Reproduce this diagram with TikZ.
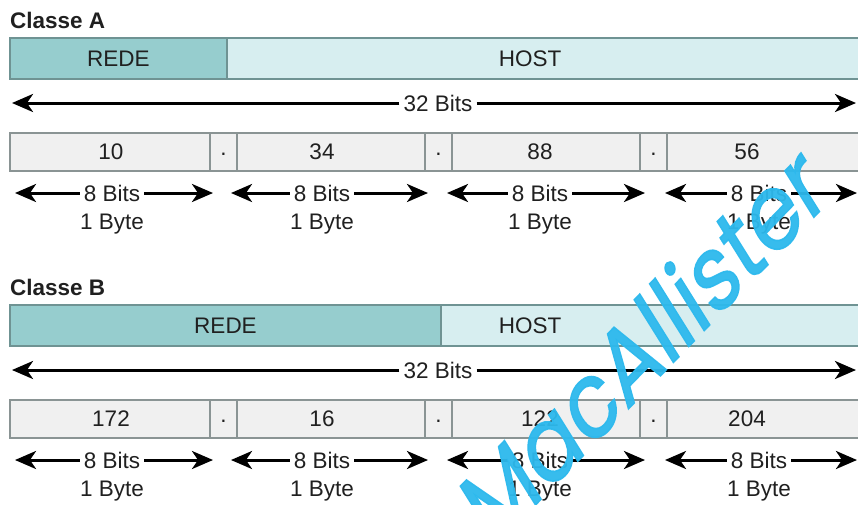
\documentclass[tikz,border=0pt]{standalone}
\usepackage{fontspec}
\setmainfont{Liberation Sans}
\newfontfamily\wmfont{Poppins}[FakeBold=1.5]
\usetikzlibrary{arrows.meta}

\definecolor{redecol}{HTML}{96CDCE}
\definecolor{hostcol}{HTML}{D7EEF0}
\definecolor{barline}{HTML}{6F9393}
\definecolor{bytecol}{HTML}{F0F0F0}
\definecolor{byteline}{HTML}{8A9494}
\definecolor{inkcol}{HTML}{202020}
\definecolor{markcol}{HTML}{2DB9ED}

\tikzset{
  lbl/.style={font=\fontsize{22.5}{26}\selectfont, text=inkcol, inner sep=3pt},
  ttl/.style={font=\fontsize{22.5}{26}\selectfont\bfseries, text=inkcol, anchor=west, inner sep=0pt},
  redebox/.style={draw=barline, fill=redecol, line width=1.2pt},
  hostbox/.style={draw=barline, fill=hostcol, line width=1.2pt},
  bytebox/.style={draw=byteline, fill=bytecol, line width=1.2pt},
  span/.style={draw=black, line width=3pt, -{Stealth[length=21pt,width=18pt,inset=6pt]}},
  gaplbl/.style={lbl, fill=white, inner xsep=4pt},
}

\begin{document}
\begin{tikzpicture}[x=1pt, y=-1pt]
\useasboundingbox (0,0) rectangle (858,504);
\clip (0,0) rectangle (858,504);
\fill[white] (0,0) rectangle (858,504);

% ---------- one address class: #1 = shift, #2 = end of network part, #3 = title, #4..#7 = octets, #8 = tag
\newcommand\classblock[8]{%
  \begin{scope}[yshift=#1]
    \node[ttl] (title#8) at (10,20) {#3};
    % network / host bar
    \draw[redebox] (10,38) rectangle (#2,79);
    \draw[hostbox] (#2,38) rectangle (880,79);
    \node[lbl] (rede#8) at ({(10+#2)/2},59) {REDE};
    \node[lbl] (host#8) at (530,59) {HOST};
    % full 32-bit span
    \node[gaplbl] (tb#8) at (438,103) {32 Bits};
    \coordinate (tl#8) at (12,103);
    \coordinate (tr#8) at (856,103);
    \draw[span] (tb#8.west) -- (tl#8);
    \draw[span] (tb#8.east) -- (tr#8);
    % octets and dots
    \draw[bytebox] (10,133) rectangle (210,171);
    \draw[bytebox] (210,133) rectangle (237,171);
    \draw[bytebox] (237,133) rectangle (425,171);
    \draw[bytebox] (425,133) rectangle (452,171);
    \draw[bytebox] (452,133) rectangle (640,171);
    \draw[bytebox] (640,133) rectangle (667,171);
    \draw[bytebox] (667,133) rectangle (880,171);
    \node[lbl] (oa#8) at (111,152) {#4};
    \node[lbl] (ob#8) at (322,152) {#5};
    \node[lbl] (oc#8) at (540,152) {#6};
    \node[lbl] (od#8) at (747,152) {#7};
    \node[lbl] (da#8) at (223.5,154) {.};
    \node[lbl] (db#8) at (438.5,154) {.};
    \node[lbl] (dc#8) at (653.5,154) {.};
    % per-octet spans
    \foreach \l/\c/\r [count=\k] in {15/112/213, 231/322/428, 447/540/645, 665/759/857}{
      \node[gaplbl] (eb#8\k) at (\c,193) {8 Bits};
      \coordinate (el#8\k) at (\l,193);
      \coordinate (er#8\k) at (\r,193);
      \draw[span] (eb#8\k.west) -- (el#8\k);
      \draw[span] (eb#8\k.east) -- (er#8\k);
      \node[lbl] (by#8\k) at (\c,224) {1 Byte};
    }
  \end{scope}}

\classblock{0pt}{227}{Classe A}{10}{34}{88}{56}{A}
\classblock{-267pt}{441}{Classe B}{172}{16}{122}{204}{B}

% ---------- watermark: slanted lettering across the lower right
\begin{scope}[shift={(492,550)}, cm={0.626,0.647,-0.530,0.848,(0,0)}]
  \node[transform shape, text=markcol, font=\wmfont\fontsize{100}{100}\selectfont,
        anchor=base west, inner sep=0pt, opacity=0.95] (mark) at (0,0) {MacAllister};
\end{scope}
\end{tikzpicture}
\end{document}
